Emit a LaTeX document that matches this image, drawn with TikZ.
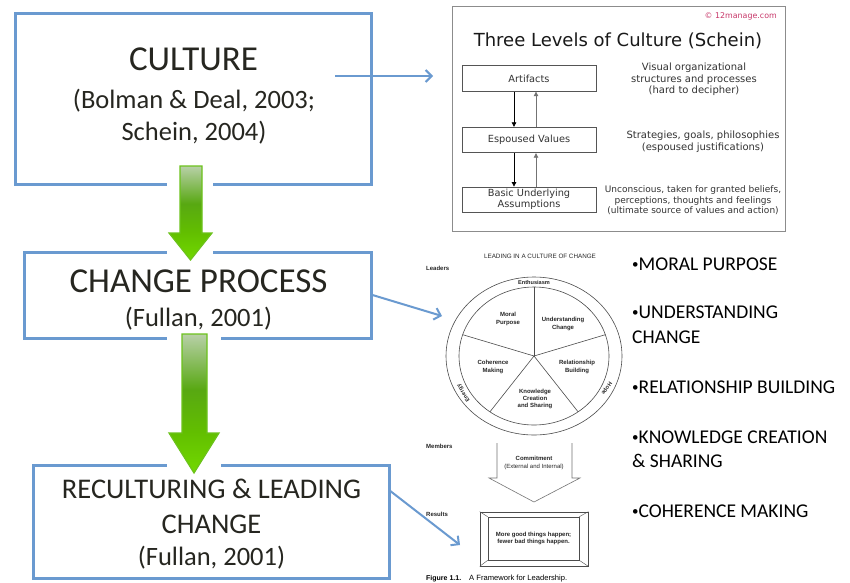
\documentclass[tikz,border=0pt]{standalone}
\usepackage{fontspec}
\setmainfont{Carlito}
\newfontfamily\verd{DejaVu Sans}
\newfontfamily\fulf{Liberation Sans}
\usetikzlibrary{arrows.meta}
\definecolor{boxblue}{HTML}{6A9AD0}
\definecolor{maintxt}{HTML}{262620}
\definecolor{grnline}{HTML}{6CC21C}
\definecolor{grnA}{HTML}{72D900}
\definecolor{grnB}{HTML}{62BE00}
\definecolor{grnC}{HTML}{58A812}
\definecolor{grnD}{HTML}{B8D0A8}
\definecolor{crim}{HTML}{C8386A}
\definecolor{sgrey}{HTML}{333333}
\definecolor{fgrey}{HTML}{555555}
\pgfdeclareverticalshading{grnarrow}{100bp}{color(0bp)=(grnA); color(25bp)=(grnA); color(40bp)=(grnB); color(55bp)=(grnC); color(75bp)=(grnD); color(100bp)=(grnD)}
\newcommand{\bdot}{\raisebox{1.3pt}{\fontsize{13}{13}\selectfont •}}
\tikzset{
  mainbox/.style={draw=boxblue, line width=3pt, inner sep=0pt},
  bigtxt/.style={font=\fontsize{35}{42}\selectfont, text=maintxt, anchor=base, inner sep=0pt},
  midtxt/.style={font=\fontsize{28.5}{34}\selectfont, text=maintxt, anchor=base, inner sep=0pt},
  subtxt/.style={font=\fontsize{26.5}{32}\selectfont, text=maintxt, anchor=base, inner sep=0pt},
  bul/.style={font=\fontsize{19.5}{24}\selectfont, text=black, anchor=base west, inner sep=0pt},
  conn/.style={draw=boxblue, line width=2pt, -{Straight Barb[length=6pt,width=12pt]}},
  gap/.style={fill=white, draw=none},
  grnarr/.style={shading=grnarrow, draw=grnline, line width=1.2pt},
  sbox/.style={draw=fgrey, line width=0.8pt, minimum width=134pt, minimum height=25.5pt, inner sep=0pt,
    font=\verd\fontsize{9.8}{11.5}\selectfont, text=sgrey, align=center},
  stxt/.style={font=\verd\fontsize{10}{11.5}\selectfont, text=sgrey, align=center, inner sep=0pt},
  ftxt/.style={font=\fulf\bfseries\fontsize{6}{7.3}\selectfont, text=black!85, align=center, inner sep=0pt},
  fline/.style={draw=black!70, line width=0.6pt},
}
\begin{document}
\begin{tikzpicture}[x=1pt,y=-1pt]
\useasboundingbox (0,0) rectangle (850,582);
\fill[white] (0,0) rectangle (850,582);

% ---------- main boxes ----------
\node[mainbox, minimum width=356pt, minimum height=171pt] (culture) at (193,98.5) {};
\node[mainbox, minimum width=347pt, minimum height=86pt] (change) at (197.5,295) {};
\node[mainbox, minimum width=356pt, minimum height=113pt] (recult) at (211,521.5) {};

\node[bigtxt] (cultureT) at (193.5,70) {CULTURE};
\node[subtxt] (cultureS1) at (194,108) {(Bolman \& Deal, 2003;};
\node[subtxt] (cultureS2) at (194,140) {Schein, 2004)};

\node[bigtxt] (changeT) at (198.5,292) {CHANGE PROCESS};
\node[subtxt] (changeS) at (198.5,326) {(Fullan, 2001)};

\node[midtxt] (recultT1) at (211.5,498) {RECULTURING \& LEADING};
\node[midtxt] (recultT2) at (211.5,533) {CHANGE};
\node[subtxt] (recultS) at (211.5,565) {(Fullan, 2001)};

% gaps in borders around green arrows
\fill[gap] (167,180) rectangle (213,188);
\fill[gap] (167,248) rectangle (213,256);
\fill[gap] (167,334) rectangle (221,342);
\fill[gap] (167,461) rectangle (221,469);

% green arrows
\path[grnarr] (180,166) -- (202,166) -- (202,233) -- (212,233) -- (190.5,260) -- (169,233) -- (180,233) -- cycle;
\path[grnarr] (182,334) -- (207,334) -- (207,433) -- (219,433) -- (194,473) -- (169,433) -- (182,433) -- cycle;

% ---------- Schein panel ----------
\node[draw=black!45, line width=1pt, minimum width=333pt, minimum height=225pt, inner sep=0pt] (schein) at (618.5,118.5) {};
\node[font=\verd\fontsize{7.9}{9}\selectfont, text=crim, anchor=east, inner sep=0pt] (copy) at (777,16) {\char"00A9{} 12manage.com};
\node[font=\verd\fontsize{18}{21}\selectfont, text=black!90, anchor=base, inner sep=0pt] (stitle) at (618,46) {Three Levels of Culture (Schein)};

\node[sbox] (art) at (529,78.5) {Artifacts};
\node[sbox] (esp) at (529,140) {Espoused Values};
\node[sbox, minimum height=25pt] (bua) at (529,199.5) {Basic Underlying\\Assumptions};

\draw[line width=0.7pt, black, -{Triangle[length=4.5pt,width=4.5pt]}] (art.south -| 514,0) -- (esp.north -| 514,0);
\draw[line width=0.7pt, black, -{Triangle[length=4.5pt,width=4.5pt]}] (esp.south -| 514,0) -- (bua.north -| 514,0);
\draw[line width=0.7pt, black!55, -{Triangle[length=4.5pt,width=4.5pt]}] (esp.north -| 536,0) -- (art.south -| 536,0);
\draw[line width=0.7pt, black!55, -{Triangle[length=4.5pt,width=4.5pt]}] (bua.north -| 536,0) -- (esp.south -| 536,0);

\node[stxt] (artD) at (694,79.5) {Visual organizational\\structures and processes\\(hard to decipher)};
\node[stxt] (espD) at (703,141.5) {Strategies, goals, philosophies\\(espoused justifications)};
\node[stxt, font=\verd\fontsize{9}{10.5}\selectfont] (buaD) at (693,200.5) {Unconscious, taken for granted beliefs,\\perceptions, thoughts and feelings\\(ultimate source of values and action)};

% ---------- Fullan figure ----------
\node[font=\fulf\fontsize{6.3}{7}\selectfont, text=black!85, inner sep=0pt] (ftitle) at (540,256) {LEADING IN A CULTURE OF CHANGE};
\node[ftxt, anchor=west] (leaders) at (426,268) {Leaders};
\coordinate (fc) at (534,356);
\draw[fline] (fc) ellipse [x radius=88, y radius=79];
\draw[fline] (fc) ellipse [x radius=75, y radius=69];
\foreach \a in {90,18,162,234,306}
  \draw[fline] (fc) -- ({534+75*cos(\a)},{356-69*sin(\a)});
\node[ftxt, font=\fulf\bfseries\fontsize{5.6}{6.5}\selectfont] (enth) at (534,282.5) {Enthusiasm};
\node[ftxt, font=\fulf\bfseries\fontsize{5.6}{6.5}\selectfont, rotate=123] (energy) at (463.5,393) {Energy};
\node[ftxt, font=\fulf\bfseries\fontsize{5.6}{6.5}\selectfont, rotate=-124] (hope) at (606.5,388.5) {Hope};
\node[ftxt] (moral) at (508,319) {Moral\\Purpose};
\node[ftxt] (underst) at (563,324) {Understanding\\Change};
\node[ftxt] (coher) at (493,367) {Coherence\\Making};
\node[ftxt] (relat) at (577,367) {Relationship\\Building};
\node[ftxt] (knowl) at (535,399) {Knowledge\\Creation\\and Sharing};

\node[ftxt, anchor=west] (members) at (426,446) {Members};
\draw[fline, black!55] (497,443) -- (497,478) -- (489,478) -- (534,502) -- (580,478) -- (572,478) -- (572,443);
\node[ftxt] (commit) at (534,458) {Commitment};
\node[ftxt, font=\fulf\fontsize{6}{7}\selectfont] (extint) at (534,467) {(External and Internal)};

\node[ftxt, anchor=west] (results) at (426,514) {Results};
\node[draw=black!70, line width=0.7pt, minimum width=108pt, minimum height=54pt, inner sep=0pt] (frameO) at (534,539) {};
\node[draw=black!70, line width=0.6pt, minimum width=91pt, minimum height=43pt, inner sep=0pt, ftxt] (frameI) at (533.5,538.5) {More good things happen;\\fewer bad things happen.};
\draw[fline, line width=0.4pt] (frameO.north west) -- (frameI.north west);
\draw[fline, line width=0.4pt] (frameO.north east) -- (frameI.north east);
\draw[fline, line width=0.4pt] (frameO.south west) -- (frameI.south west);
\draw[fline, line width=0.4pt] (frameO.south east) -- (frameI.south east);
\node[font=\fulf\bfseries\fontsize{7}{8}\selectfont, anchor=base west, inner sep=0pt] (figl) at (426,580) {Figure 1.1.};
\node[font=\fulf\fontsize{7.6}{8}\selectfont, anchor=base west, inner sep=0pt] (figc) at (469,580) {A Framework for Leadership.};

% ---------- bullets ----------
\node[bul] (b1) at (632,270) {\bdot MORAL PURPOSE};
\node[bul] (b2) at (632,318) {\bdot UNDERSTANDING};
\node[bul] (b2b) at (632,343) {CHANGE};
\node[bul] (b3) at (632,393) {\bdot RELATIONSHIP BUILDING};
\node[bul] (b4) at (632,443) {\bdot KNOWLEDGE CREATION};
\node[bul] (b4b) at (632,467) {\& SHARING};
\node[bul] (b5) at (632,517) {\bdot COHERENCE MAKING};

% ---------- connectors ----------
\coordinate (a1s) at (335,76);
\coordinate (a1e) at (433,76);
\coordinate (a2e) at (442,316);
\coordinate (a3s) at (389,490);
\coordinate (a3e) at (460,545);
\draw[conn] (a1s) -- (a1e);
\draw[conn] (change.east) -- (a2e);
\draw[conn] (a3s) -- (a3e);
\end{tikzpicture}
\end{document}
